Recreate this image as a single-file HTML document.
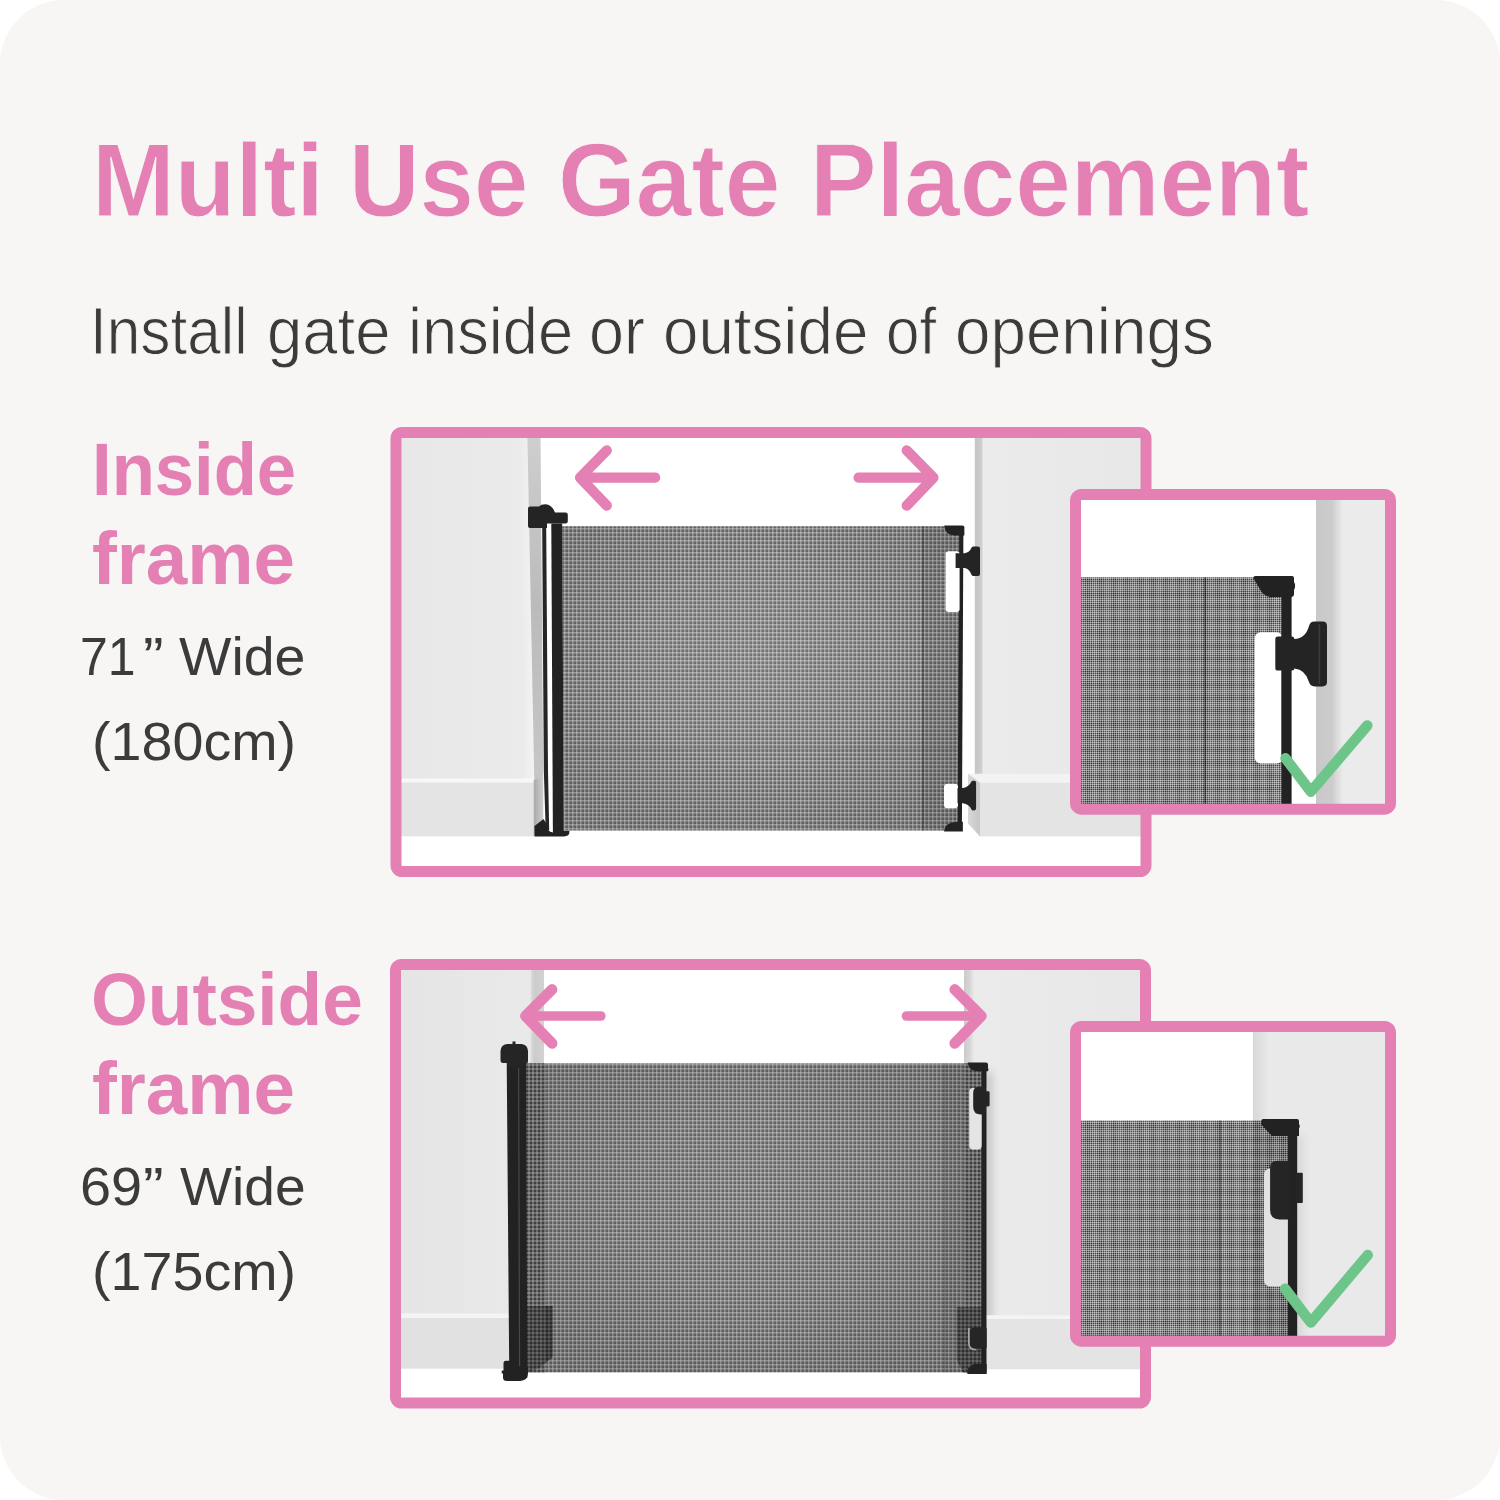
<!DOCTYPE html>
<html lang="en">
<head>
<meta charset="utf-8">
<title>Multi Use Gate Placement</title>
<style>
html,body{margin:0;padding:0;background:#fff}
#page{position:relative;width:1500px;height:1500px;overflow:hidden;background:#fff;font-family:"Liberation Sans",Arial,Helvetica,sans-serif}
#card{position:absolute;left:0;top:0;width:1500px;height:1500px;background:#f7f6f4;border-radius:64px}
#art{position:absolute;left:0;top:0}
.ln{margin:0;padding:0;height:0;font-size:0;line-height:0}
.w{position:absolute;white-space:pre;line-height:1;transform-origin:0 0;margin:0}
.pk{color:#e580b4;font-weight:bold}
.gr{color:#3b3b3b;font-weight:normal}
.lt{-webkit-text-stroke:1px #f7f6f4}
</style>
</head>
<body>
<div id="page">
<div id="card"></div>
<svg id="art" width="1500" height="1500" viewBox="0 0 1500 1500">
<defs>
  <pattern id="mesh" width="4" height="4" patternUnits="userSpaceOnUse">
    <rect width="4" height="4" fill="#686868"/>
    <rect width="1.5" height="4" fill="#fff" fill-opacity=".35"/>
    <rect width="4" height="1.5" fill="#fff" fill-opacity=".35"/>
  </pattern>
  <pattern id="meshd" width="4" height="4" patternUnits="userSpaceOnUse">
    <rect width="4" height="4" fill="#404040"/>
    <rect width="2" height="4" fill="#fff" fill-opacity=".22"/>
    <rect width="4" height="2" fill="#fff" fill-opacity=".22"/>
  </pattern>
  <pattern id="meshdd" width="4" height="4" patternUnits="userSpaceOnUse">
    <rect width="4" height="4" fill="#2e2e2e"/>
    <rect width="2" height="4" fill="#fff" fill-opacity=".14"/>
    <rect width="4" height="2" fill="#fff" fill-opacity=".14"/>
  </pattern>
  <pattern id="fine" width="2" height="2" patternUnits="userSpaceOnUse">
    <rect width="2" height="2" fill="#383838"/>
    <rect width="1" height="2" fill="#fff" fill-opacity=".4"/>
    <rect width="2" height="1" fill="#fff" fill-opacity=".4"/>
  </pattern>
  <pattern id="plaid" width="13" height="13" patternUnits="userSpaceOnUse">
    <rect width="5" height="13" fill="#fff" fill-opacity=".08"/>
    <rect width="13" height="5" fill="#fff" fill-opacity=".08"/>
    <rect x="8" width="2" height="13" fill="#000" fill-opacity=".07"/>
    <rect y="8" width="13" height="2" fill="#000" fill-opacity=".07"/>
  </pattern>
  <pattern id="fined" width="2" height="2" patternUnits="userSpaceOnUse">
    <rect width="2" height="2" fill="#2c2c2c"/>
    <rect width="1" height="2" fill="#fff" fill-opacity=".36"/>
    <rect width="2" height="1" fill="#fff" fill-opacity=".36"/>
  </pattern>
  <linearGradient id="wallL" x1="0" x2="1" y1="0" y2="0"><stop offset="0" stop-color="#e7e7e7"/><stop offset="1" stop-color="#ebebeb"/></linearGradient>
  <linearGradient id="wallR" x1="0" x2="1" y1="0" y2="0"><stop offset="0" stop-color="#ebebeb"/><stop offset="1" stop-color="#e7e7e7"/></linearGradient>
  <linearGradient id="wallL2" x1="0" x2="1" y1="0" y2="0"><stop offset="0" stop-color="#e5e5e5"/><stop offset="1" stop-color="#e9e9e9"/></linearGradient>
  <linearGradient id="jambL" x1="0" x2="0" y1="0" y2="1"><stop offset="0" stop-color="#cfcfcf"/><stop offset=".5" stop-color="#bbbbbb"/><stop offset="1" stop-color="#c6c6c6"/></linearGradient>
  <linearGradient id="jambL2" x1="0" x2="1" y1="0" y2="0"><stop offset="0" stop-color="#dcdcdc"/><stop offset=".3" stop-color="#cccccc"/><stop offset="1" stop-color="#d2d2d2"/></linearGradient>
  <linearGradient id="jambR" x1="0" x2="1" y1="0" y2="0"><stop offset="0" stop-color="#c6c6c6"/><stop offset=".7" stop-color="#cccccc"/><stop offset="1" stop-color="#e4e4e4"/></linearGradient>
  <linearGradient id="jambI" x1="0" x2="1" y1="0" y2="0"><stop offset="0" stop-color="#c8c8c8"/><stop offset=".6" stop-color="#cccccc"/><stop offset=".8" stop-color="#dddddd"/><stop offset="1" stop-color="#ebebeb"/></linearGradient>
  <linearGradient id="jambI2" x1="0" x2="1" y1="0" y2="0"><stop offset="0" stop-color="#d8d8d8"/><stop offset="1" stop-color="#e8e8e8"/></linearGradient>
  <linearGradient id="softL" x1="0" x2="1" y1="0" y2="0"><stop offset="0" stop-color="#f3f3f3" stop-opacity="0"/><stop offset="1" stop-color="#f3f3f3"/></linearGradient>
  <linearGradient id="jambR2" x1="0" x2="1" y1="0" y2="0"><stop offset="0" stop-color="#cbcbcb"/><stop offset=".5" stop-color="#d4d4d4"/><stop offset="1" stop-color="#e8e8e8"/></linearGradient>
  <linearGradient id="sideL" x1="0" x2="1" y1="0" y2="0"><stop offset="0" stop-color="#a8a8a8"/><stop offset="1" stop-color="#cfcfcf"/></linearGradient>
  <linearGradient id="sideR" x1="0" x2="1" y1="0" y2="0"><stop offset="0" stop-color="#d8d8d8"/><stop offset="1" stop-color="#c6c6c6"/></linearGradient>
  <linearGradient id="shade" x1="0" x2="1" y1="0" y2="0"><stop offset="0" stop-color="#000" stop-opacity=".13"/><stop offset="1" stop-color="#000" stop-opacity="0"/></linearGradient>
  <filter id="bl" x="-300%" y="-10%" width="700%" height="120%"><feGaussianBlur stdDeviation="4"/></filter>
  <radialGradient id="rad" cx=".5" cy=".45" r=".62"><stop offset="0" stop-color="#fff" stop-opacity=".08"/><stop offset=".55" stop-color="#fff" stop-opacity=".02"/><stop offset=".56" stop-color="#000" stop-opacity=".0"/><stop offset="1" stop-color="#000" stop-opacity=".09"/></radialGradient>
  <radialGradient id="rad2" cx=".5" cy=".45" r=".62"><stop offset="0" stop-color="#000" stop-opacity=".02"/><stop offset=".5" stop-color="#000" stop-opacity=".05"/><stop offset="1" stop-color="#000" stop-opacity=".14"/></radialGradient>
  <clipPath id="c1"><rect x="396" y="432.5" width="750" height="439"/></clipPath>
  <clipPath id="c2"><rect x="395.5" y="964.5" width="750" height="438.5"/></clipPath>
  <clipPath id="c3"><rect x="1075.5" y="494.5" width="315" height="315"/></clipPath>
  <clipPath id="c4"><rect x="1075.5" y="1026.5" width="315" height="315"/></clipPath>
</defs>

<!-- ================= FRAME 1 : inside frame ================= -->
<g clip-path="url(#c1)">
  <rect x="396" y="432" width="750" height="440" fill="#fff"/>
  <!-- left wall -->
  <rect x="396" y="432" width="139" height="348" fill="url(#wallL)"/>
  <path d="M520,432 H528 L535,780 H526 Z" fill="url(#softL)"/>
  <path d="M527.300,432 H540.500 L543.300,780 H534.300 Z" fill="url(#jambL)"/>
  <!-- left baseboard -->
  <path d="M533.400,780 L543.300,777 V826 L533.400,836.400 Z" fill="url(#sideL)"/>
  <rect x="396" y="780" width="137.400" height="56.400" fill="#e4e4e4"/>
  <rect x="396" y="778.500" width="137.400" height="4" fill="#f7f7f7"/>
  <!-- right wall -->
  <rect x="974.800" y="432" width="8.600" height="345" fill="url(#jambR)"/>
  <rect x="983.200" y="432" width="163" height="345" fill="url(#wallR)"/>
  <!-- right baseboard -->
  <path d="M968,773.800 L980,773.800 H1146 V783 H980 Z" fill="#f3f3f3"/>
  <rect x="980" y="782.800" width="166" height="53.600" fill="#e4e4e4"/>
  <path d="M968,773.800 L980,782.800 V836.400 L968,823.600 Z" fill="url(#sideR)"/>
  <!-- gate mesh -->
  <path d="M562.200,526.300 H960 L958,830.600 H563.800 Z" fill="url(#mesh)"/>
  <rect x="562" y="526.300" width="398" height="304.300" fill="url(#rad)"/>
  <rect x="922.800" y="526.300" width="36" height="304.300" fill="#000" fill-opacity=".07"/>
  <rect x="922.300" y="526.300" width="1.200" height="304.300" fill="#1a1a1a" fill-opacity=".5"/>
  <rect x="562.500" y="748.500" width="396" height="1.200" fill="#222" fill-opacity=".15"/>
  <!-- left post -->
  <path d="M542.200,528 H546.200 L548,770 L549.200,830 H545.700 L543.800,770 Z" fill="#262626"/>
  <path d="M551.300,523.500 H562.200 L563.800,834 H552.900 Z" fill="#222"/>
  <path d="M528,508.500 Q528,506.500 530,506.500 H539 Q541,504.300 545.500,504.300 Q552,505 554.500,511.500 L555,512.400 H565.500 Q567.800,512.400 567.800,514.700 V521.300 Q567.800,523.600 565.500,523.600 H547 V528 H530 Q528,528 528,526 Z" fill="#242424"/>
  <path d="M534.500,836.400 V826 L543.500,819 L546,823 Q547,832 553,832.500 V830.800 H569.400 V832 Q569.400,836.400 564,836.400 Z" fill="#222"/>
  <!-- right end -->
  <path d="M959.200,530 H963.400 L961.900,829 H957.600 Z" fill="#222"/>
  <path d="M944.400,525.600 H962.400 Q964.400,525.600 964.400,527.600 V535.600 H954 Q945,534 944.400,526.500 Z" fill="#222"/>
  <rect x="945.600" y="551.200" width="14" height="60.800" rx="3" fill="#fff"/>
  <rect x="944" y="783.700" width="14" height="24.600" rx="3.500" fill="#fff"/>
  <path d="M955.600,553.200 H964.800 Q969.500,552.500 971.600,547.500 Q972,546.400 973.500,546.400 H978 Q980,546.400 980,548.400 V574 Q980,576 978,576 H973.500 Q972,576 971.600,575 Q969.500,569 964.800,568 H955.600 Z" fill="#242424"/>
  <path d="M957.500,787.900 H963 Q969,787 971.500,781.500 Q972,780.700 973,780.700 H974.300 Q976.100,780.700 976.100,782.500 V808.600 Q976.100,810.400 974.300,810.400 H973 Q972,810.400 971.500,809.500 Q969,804 963,803.200 H957.500 Z" fill="#242424"/>
  <path d="M944,831.400 Q944.500,824.500 952,822.500 L958,821.800 H962.900 V831.400 Z" fill="#222"/>
  <!-- arrows -->
  <g fill="none" stroke="#e580b4" stroke-width="10.200" stroke-linecap="round" stroke-linejoin="round">
    <path d="M655.200,477.600 H581 M606.800,450.400 L580,477.600 L606.800,505.600"/>
    <path d="M858.500,477.600 H932.500 M906.700,450.400 L933.500,477.600 L906.700,505.600"/>
  </g>
</g>
<rect x="396" y="432.500" width="750" height="439" rx="6" fill="none" stroke="#e580b4" stroke-width="11"/>

<!-- ================= FRAME 2 : outside frame ================= -->
<g clip-path="url(#c2)">
  <rect x="395" y="964" width="751" height="440" fill="#fff"/>
  <!-- left wall -->
  <rect x="395" y="964" width="136" height="352" fill="url(#wallL2)"/>
  <rect x="530.700" y="964" width="13.300" height="352" fill="url(#jambL2)"/>
  <rect x="395" y="1313.300" width="149" height="55.400" fill="#e1e1e1"/>
  <rect x="395" y="1313.300" width="149" height="4.700" fill="#f4f4f4"/>
  <!-- right wall -->
  <rect x="964" y="964" width="10" height="352" fill="url(#jambR2)"/>
  <rect x="973.500" y="964" width="173" height="352" fill="url(#wallR)"/>
  <rect x="983" y="1072" width="9" height="290" fill="#000" fill-opacity=".17" filter="url(#bl)"/>
  <rect x="964" y="1315.300" width="182" height="54" fill="#e4e4e4"/>
  <rect x="964" y="1315.300" width="182" height="3.700" fill="#f4f4f4"/>
  <!-- mesh -->
  <rect x="526" y="1063.400" width="456" height="309" fill="url(#mesh)"/>
  <rect x="526" y="1063.400" width="19" height="309" fill="url(#meshd)"/>
  <path d="M526,1306 H552.700 V1357.300 L539.300,1368 L527,1372.400 H526 Z" fill="url(#meshdd)"/>
  <rect x="545" y="1063.400" width="419" height="309" fill="url(#rad2)"/>
  <rect x="944.300" y="1063.400" width="20" height="309" fill="#000" fill-opacity=".06"/>
  <rect x="964" y="1063.400" width="18" height="309" fill="url(#meshd)"/>
  <path d="M956.700,1307 H982 V1372.400 H963 L956.700,1360 Z" fill="url(#meshdd)"/>
  <rect x="943.700" y="1063.400" width="1.200" height="309" fill="#222" fill-opacity=".3"/>
  <!-- left post -->
  <path d="M506.700,1060 H526 L527.300,1378 H509.300 Z" fill="#222"/>
  <path d="M518,1068 h1.200 L520.200,1372 h-1.200 Z" fill="#484848"/>
  <path d="M512.500,1041.500 h3 v2.500 h6 Q527.500,1044.500 528,1051 V1061 Q528,1063.500 525.500,1063.500 H521 V1067 H507 V1063 H503 Q500.500,1063 500.500,1060 V1051 Q501,1044.500 507,1044 h5.500 Z" fill="#252525"/>
  <path d="M506,1360.700 H510 V1366 H528 V1373 Q528,1380.500 520,1381 H507 Q503,1381 503,1377.500 V1373.500 H501.700 V1370.500 H503.500 V1363 Q503.500,1360.700 506,1360.700 Z" fill="#222"/>
  <!-- right end -->
  <rect x="981.300" y="1068" width="5.200" height="304" fill="#222"/>
  <path d="M968,1062.400 H986 Q988,1062.400 988,1064.400 V1068 Q989,1069.500 988,1071.200 H976 Q968.500,1070 968,1063.400 Z" fill="#222"/>
  <rect x="969.200" y="1088" width="12.500" height="61.600" rx="4" fill="#e4e4e4"/>
  <path d="M973.200,1093 Q973.200,1086.800 979,1086.800 H986 V1091.200 H988.300 Q989.600,1091.200 989.600,1092.500 V1105 Q989.600,1106.400 988.300,1106.400 H986 V1114.400 H981 Q973.200,1114.400 973.200,1107 Z" fill="#242424"/>
  <path d="M970,1332 Q970,1327.300 975,1327.300 H985 Q986.700,1327.300 986.700,1329 V1347 Q986.700,1348.700 985,1348.700 H975 Q970,1348.700 970,1344 Z" fill="#262626"/>
  <path d="M968.800,1328 V1343 Q968.800,1349.500 976,1349.800" fill="none" stroke="#a8a8a8" stroke-width="1.600"/>
  <path d="M967.300,1374 Q967.300,1366 974,1364 H986.700 V1374 Z" fill="#222"/>
  <!-- arrows -->
  <g fill="none" stroke="#e580b4" stroke-width="10.200" stroke-linecap="round" stroke-linejoin="round">
    <path d="M600.800,1016 H527" stroke-width="9.600"/>
    <path d="M906.500,1016 H980" stroke-width="9.600"/>
    <path d="M552,989.500 L525.500,1016 L552,1043.300" stroke-width="10.800"/>
    <path d="M954.800,989.500 L981.300,1016 L954.800,1043.300" stroke-width="10.800"/>
  </g>
</g>
<rect x="395.500" y="964.500" width="750" height="438.500" rx="6" fill="none" stroke="#e580b4" stroke-width="11"/>

<!-- ================= INSET 1 ================= -->
<g clip-path="url(#c3)">
  <rect x="1075" y="494" width="316" height="316" fill="#fff"/>
  <rect x="1316" y="494" width="27" height="316" fill="url(#jambI)"/>
  <rect x="1342.500" y="494" width="49" height="316" fill="#ebebeb"/>
  <rect x="1075" y="577.300" width="206.500" height="233" fill="url(#fine)"/>
  <rect x="1075" y="577.300" width="206.500" height="233" fill="url(#plaid)"/>
  <rect x="1204.500" y="577.300" width="1.500" height="233" fill="#111" fill-opacity=".55"/>
  <rect x="1254.700" y="632.300" width="28" height="131.200" rx="6" fill="#fff"/>
  <rect x="1281.300" y="590" width="10.300" height="220" fill="#222"/>
  <path d="M1253.300,578 Q1253.300,575.900 1255.500,575.900 H1292 Q1294,575.900 1294,578 V582 Q1296.300,585.500 1294,590 V594.500 Q1294,596.900 1291.500,596.900 H1270 Q1263,596 1259.500,588.500 Z" fill="#222"/>
  <path d="M1275.300,639 Q1275.300,636.500 1277.800,636.500 H1292 Q1294.400,636.500 1294.400,639 Q1305.500,638.500 1309,626 Q1310.200,621.600 1314.500,621.600 H1322.500 Q1327,621.600 1327,626 V682 Q1327,686.400 1322.500,686.400 H1314.500 Q1310.200,686.400 1309,682 Q1305.500,669.500 1294.400,668.500 Q1294.400,670.600 1292,670.600 H1277.800 Q1275.300,670.600 1275.300,668 Z" fill="#242424"/>
  <rect x="1318.700" y="624" width="1.500" height="60" fill="#3c3c3c"/>
  <path d="M1285.500,758.300 L1310.800,791.700 L1367.300,725.500" fill="none" stroke="#6dc589" stroke-width="10.500" stroke-linecap="round" stroke-linejoin="round"/>
</g>
<rect x="1075.500" y="494.500" width="315" height="314.700" rx="6" fill="none" stroke="#e580b4" stroke-width="11"/>

<!-- ================= INSET 2 ================= -->
<g clip-path="url(#c4)">
  <rect x="1075" y="1026" width="316" height="316" fill="#fff"/>
  <rect x="1252.900" y="1026" width="16" height="316" fill="url(#jambI2)"/>
  <rect x="1268.500" y="1026" width="123" height="316" fill="#e9e9e9"/>
  <rect x="1293" y="1135" width="10" height="215" fill="#000" fill-opacity=".08" filter="url(#bl)"/>
  <rect x="1075" y="1120.500" width="178" height="222" fill="url(#fine)"/>
  <rect x="1252.900" y="1120.500" width="35.500" height="222" fill="url(#fined)"/>
  <rect x="1075" y="1120.500" width="213" height="222" fill="url(#plaid)"/>
  <rect x="1219.500" y="1120.500" width="1.500" height="222" fill="#111" fill-opacity=".4"/>
  <rect x="1264" y="1168.600" width="25" height="118" rx="6" fill="#e2e2e2"/>
  <rect x="1287.900" y="1130" width="9.300" height="212" fill="#222"/>
  <path d="M1261.300,1121 Q1261.300,1119.100 1263.300,1119.100 H1297 Q1299,1119.100 1299,1121 V1124 Q1300.500,1126 1299,1128.500 V1135.900 H1272 L1261.300,1124.500 Z" fill="#222"/>
  <path d="M1270.100,1168 Q1270.100,1160.700 1277.500,1160.700 H1289 V1219.400 H1279.500 Q1270.100,1219.400 1270.100,1210 Z" fill="#252525"/>
  <rect x="1296" y="1172.800" width="6.800" height="30.300" rx="1" fill="#252525"/>
  <path d="M1285.100,1288.700 L1310.800,1322.500 L1367.700,1255.100" fill="none" stroke="#6dc589" stroke-width="10.500" stroke-linecap="round" stroke-linejoin="round"/>
</g>
<rect x="1075.500" y="1026.500" width="315" height="314.700" rx="6" fill="none" stroke="#e580b4" stroke-width="11"/>
</svg>
<h1 class="ln"><span class="w pk lt" style="left:91.7px;top:127.7px;font-size:104.3px;transform:scaleX(0.9535)">Multi</span> <span class="w pk lt" style="left:349.1px;top:127.7px;font-size:104.3px;transform:scaleX(0.9367)">Use</span> <span class="w pk lt" style="left:557.7px;top:127.7px;font-size:104.3px;transform:scaleX(0.9588)">Gate</span> <span class="w pk lt" style="left:810.3px;top:127.7px;font-size:104.3px;transform:scaleX(0.9568)">Placement</span></h1>
<p class="ln"><span class="w gr lt" style="left:90.3px;top:296.9px;font-size:67.5px;transform:scaleX(0.8938)">Install</span> <span class="w gr lt" style="left:267.0px;top:296.9px;font-size:67.5px;transform:scaleX(0.9402)">gate</span> <span class="w gr lt" style="left:408.1px;top:296.9px;font-size:67.5px;transform:scaleX(0.9363)">inside</span> <span class="w gr lt" style="left:589.1px;top:296.9px;font-size:67.5px;transform:scaleX(0.9303)">or</span> <span class="w gr lt" style="left:663.0px;top:296.9px;font-size:67.5px;transform:scaleX(0.9434)">outside</span> <span class="w gr lt" style="left:886.2px;top:296.9px;font-size:67.5px;transform:scaleX(0.8913)">of</span> <span class="w gr lt" style="left:955.0px;top:296.9px;font-size:67.5px;transform:scaleX(0.9444)">openings</span></p>
<h2 class="ln"><span class="w pk" style="left:91.8px;top:431.7px;font-size:75px;transform:scaleX(0.9419)">Inside</span> <span class="w pk" style="left:91.7px;top:521.3px;font-size:75px;transform:scaleX(0.9942)">frame</span></h2>
<p class="ln"><span class="w gr" style="left:79.6px;top:628.5px;font-size:54px;transform:scaleX(0.9259)">71</span><span class="w gr" style="left:142.6px;top:628.5px;font-size:54px;transform:scaleX(1.1479)">”</span> <span class="w gr" style="left:179.2px;top:628.5px;font-size:54px;transform:scaleX(1.0281)">Wide</span> <span class="w gr" style="left:91.7px;top:713.5px;font-size:54px;transform:scaleX(1.0305)">(180cm)</span></p>
<h2 class="ln"><span class="w pk" style="left:90.9px;top:962.0px;font-size:75px;transform:scaleX(0.9736)">Outside</span> <span class="w pk" style="left:91.7px;top:1051.0px;font-size:75px;transform:scaleX(0.9942)">frame</span></h2>
<p class="ln"><span class="w gr" style="left:80.0px;top:1158.7px;font-size:54px;transform:scaleX(1.0352)">69</span><span class="w gr" style="left:142.6px;top:1158.7px;font-size:54px;transform:scaleX(1.1479)">”</span> <span class="w gr" style="left:180.0px;top:1158.7px;font-size:54px;transform:scaleX(1.0215)">Wide</span> <span class="w gr" style="left:91.7px;top:1243.5px;font-size:54px;transform:scaleX(1.0305)">(175cm)</span></p>
</div>
</body>
</html>
